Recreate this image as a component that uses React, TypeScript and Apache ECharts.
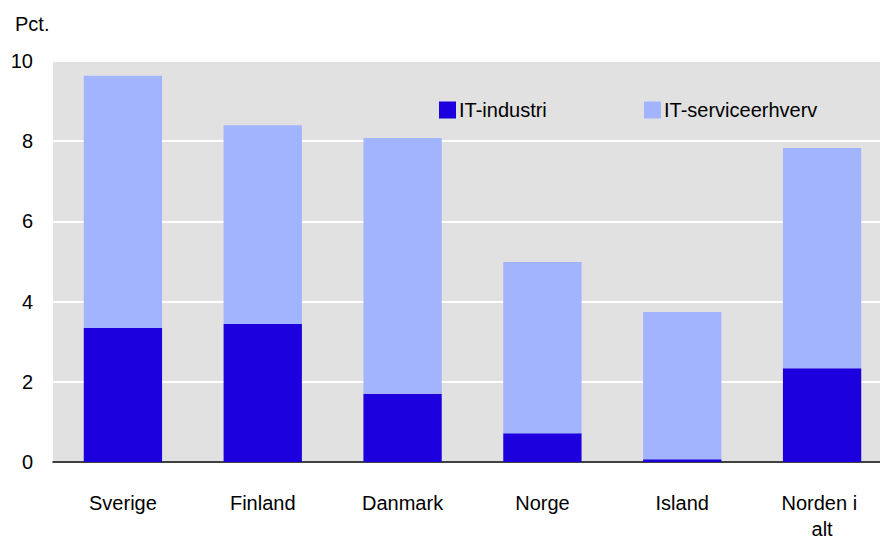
import React, { useEffect, useRef } from "react";
import * as echarts from "echarts";

const categories = ["Sverige", "Finland", "Danmark", "Norge", "Island", "Norden i alt"];
const itIndustri = [3.34, 3.44, 1.7, 0.72, 0.07, 2.34];
const itService = [6.29, 4.96, 6.38, 4.27, 3.67, 5.49];
const yTicks = { min: 0, max: 10, interval: 2 };

const FONT = "'Liberation Sans', Arial, sans-serif";

export default function App() {
  const ref = useRef<HTMLDivElement>(null);
  useEffect(() => {
    document.body.style.margin = "0";
    if (!ref.current) return;
    const chart = echarts.init(ref.current, null, { renderer: "svg" });
    chart.setOption({
      animation: false,
      backgroundColor: "#ffffff",
      textStyle: { fontFamily: FONT, color: "#000" },
      title: {
        text: "Pct.",
        left: 10,
        top: 9,
        textStyle: { fontFamily: FONT, fontSize: 20, fontWeight: "normal", color: "#000" },
      },
      legend: [
        {
          data: ["IT-industri"],
          left: 434,
          top: 95,
          itemWidth: 17,
          itemHeight: 17,
          itemGap: 4,
          icon: "rect",
          textStyle: { fontFamily: FONT, fontSize: 20, color: "#000", padding: [0, 0, 0, -2] },
        },
        {
          data: ["IT-serviceerhverv"],
          left: 639,
          top: 95,
          itemWidth: 17,
          itemHeight: 17,
          icon: "rect",
          textStyle: { fontFamily: FONT, fontSize: 20, color: "#000", padding: [0, 0, 0, -2] },
        },
      ],
      grid: {
        left: 53,
        top: 61,
        bottom: 81,
        right: -12,
        show: true,
        backgroundColor: "#e1e1e1",
        borderWidth: 0,
        containLabel: false,
        outerBoundsMode: "none",
      },
      xAxis: {
        type: "category",
        data: categories,
        axisTick: { show: false },
        axisLine: { show: true, lineStyle: { color: "#000", width: 1.5 } },
        axisLabel: {
          fontFamily: FONT,
          fontSize: 20,
          color: "#000",
          margin: 28,
          lineHeight: 26,
          width: 90,
          overflow: "break",
          interval: 0,
        },
      },
      yAxis: {
        type: "value",
        min: yTicks.min,
        max: yTicks.max,
        interval: yTicks.interval,
        axisLine: { show: false },
        axisTick: { show: false },
        splitLine: { show: true, lineStyle: { color: "#ffffff", width: 2 } },
        axisLabel: { fontFamily: FONT, fontSize: 20, color: "#000", margin: 20 },
      },
      series: [
        {
          name: "IT-industri",
          type: "bar",
          stack: "total",
          barWidth: "56%",
          itemStyle: { color: "#1c00dd" },
          data: itIndustri,
        },
        {
          name: "IT-serviceerhverv",
          type: "bar",
          stack: "total",
          barWidth: "56%",
          itemStyle: { color: "#a3b4fe" },
          data: itService,
        },
      ],
    });
    return () => chart.dispose();
  }, []);
  return <div ref={ref} style={{ width: 880, height: 543 }} />;
}
